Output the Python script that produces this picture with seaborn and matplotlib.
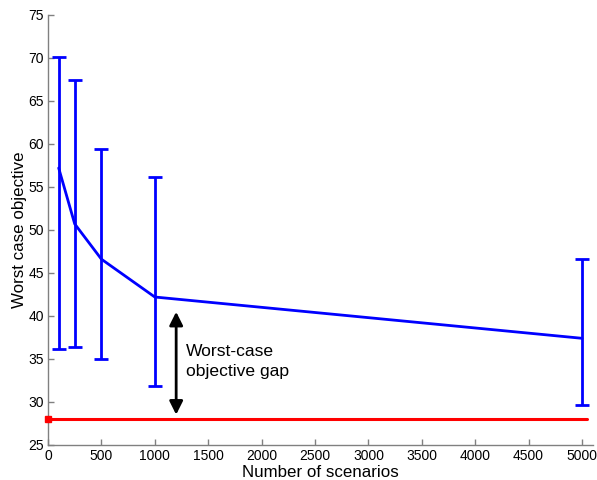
import matplotlib
matplotlib.use('Agg')
import matplotlib.pyplot as plt
import numpy as np
import pandas as pd
import seaborn as sns

# values
scenarios = [100, 250, 500, 1000, 5000]
mean_obj = [57.2, 50.7, 46.6, 42.2, 37.4]
upper_obj = [70.1, 67.4, 59.4, 56.2, 46.6]
lower_obj = [36.2, 36.4, 35.0, 31.9, 29.6]

true_x = [0, 5050]
true_obj = [28.0, 28.0]

gap_x = 1200
gap_top = 40.8
gap_bottom = 28.2

sns.set_style('ticks')
plt.rcParams['font.family'] = ['Liberation Sans', 'DejaVu Sans']
plt.rcParams['xtick.direction'] = 'in'
plt.rcParams['ytick.direction'] = 'in'
plt.rcParams['text.color'] = 'black'
plt.rcParams['axes.labelcolor'] = 'black'
plt.rcParams['xtick.labelcolor'] = 'black'
plt.rcParams['ytick.labelcolor'] = 'black'

data = pd.DataFrame({'Scenarios': scenarios, 'Objective': mean_obj})
ref = pd.DataFrame({'Scenarios': true_x, 'Objective': true_obj})

fig = plt.figure(figsize=(5.97, 4.8), dpi=100)
ax = fig.add_axes([0.0804, 0.073, 0.9124, 0.896])

sns.lineplot(data=data, x='Scenarios', y='Objective', color='#0000ff',
             linewidth=2, ax=ax)
yerr = np.array([np.array(mean_obj) - np.array(lower_obj),
                 np.array(upper_obj) - np.array(mean_obj)])
ax.errorbar(scenarios, mean_obj, yerr=yerr, fmt='none', ecolor='#0000ff',
            elinewidth=2, capsize=5, capthick=2)

sns.lineplot(data=ref, x='Scenarios', y='Objective', color='#ff0000',
             linewidth=2.2, ax=ax)
ax.plot(true_x[0], true_obj[0], marker='s', color='#ff0000', markersize=5,
        clip_on=False, zorder=5)

ax.annotate('', xy=(gap_x, gap_bottom), xytext=(gap_x, gap_top),
            arrowprops=dict(arrowstyle='<|-|>', color='black', lw=2,
                            mutation_scale=20))
ax.text(1290, 34.7, 'Worst-case\nobjective gap', fontsize=12.6,
        ha='left', va='center', linespacing=1.35)

ax.set_xlim(0, 5100)
ax.set_ylim(25, 75)
ax.set_xticks(np.arange(0, 5001, 500))
ax.set_yticks(np.arange(25, 76, 5))
ax.tick_params(labelsize=10, length=4, color='#808080', width=1, pad=3)
ax.set_xlabel('Number of scenarios', fontsize=12.2, labelpad=1)
ax.set_ylabel('Worst case objective', fontsize=12.2, labelpad=1)

sns.despine(ax=ax)
for side in ['left', 'bottom']:
    ax.spines[side].set_color('#808080')
    ax.spines[side].set_linewidth(1)

fig.savefig('out.png', dpi=100)
